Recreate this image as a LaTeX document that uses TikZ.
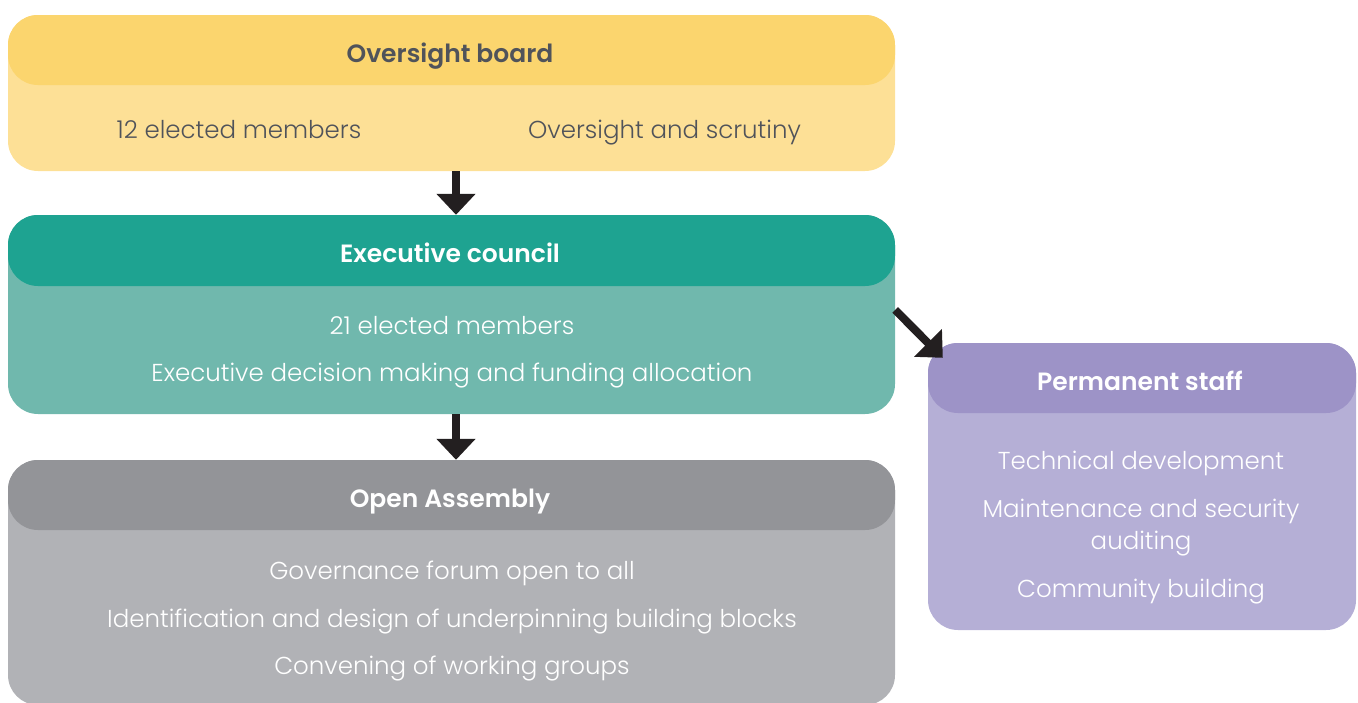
\documentclass[tikz,border=0pt]{standalone}
\usepackage{fontspec}
\setmainfont{Poppins}[UprightFont={* Light},BoldFont={* SemiBold}]
\usetikzlibrary{arrows.meta}
\definecolor{obHead}{HTML}{FBD56E}
\definecolor{obBody}{HTML}{FDE096}
\definecolor{obText}{HTML}{50535A}
\definecolor{ecHead}{HTML}{1EA391}
\definecolor{ecBody}{HTML}{70B8AD}
\definecolor{oaHead}{HTML}{939498}
\definecolor{oaBody}{HTML}{B1B2B6}
\definecolor{psHead}{HTML}{9D93C7}
\definecolor{psBody}{HTML}{B5AFD6}
\definecolor{arrowc}{HTML}{231F20}
\begin{document}
\begin{tikzpicture}[x=1pt,y=-1pt,
  panel/.style={rectangle, rounded corners=30pt, inner sep=0pt, draw=none},
  headtext/.style={font=\fontsize{25}{30}\selectfont\bfseries, anchor=base},
  bodytext/.style={font=\fontsize{24.5}{30}\selectfont, text=white, anchor=base},
  flow/.style={line width=8pt, draw=arrowc, -{Triangle[length=21pt,width=38pt]}}]
\useasboundingbox (0,0) rectangle (1358,702);

% Oversight board
\node[panel, fill=obBody, minimum width=887pt, minimum height=156pt] (ob) at (451.5,93) {};
\node[panel, fill=obHead, minimum width=887pt, minimum height=70pt, anchor=north] (obh) at (ob.north) {};
\node[headtext, text=obText] (obt) at (450,62) {Oversight board};
\node[bodytext, text=obText] (ob1) at (239,138) {12 elected members};
\node[bodytext, text=obText] (ob2) at (664.5,138) {Oversight and scrutiny};

% Executive council
\node[panel, fill=ecBody, minimum width=887pt, minimum height=199pt] (ec) at (451.5,314.5) {};
\node[panel, fill=ecHead, minimum width=887pt, minimum height=71pt, anchor=north] (ech) at (ec.north) {};
\node[headtext, text=white] (ect) at (450,262) {Executive council};
\node[bodytext] (ec1) at (452,334) {21 elected members};
\node[bodytext] (ec2) at (452,381) {Executive decision making and funding allocation};

% Open Assembly
\node[panel, fill=oaBody, minimum width=887pt, minimum height=245pt] (oa) at (451.5,582.5) {};
\node[panel, fill=oaHead, minimum width=887pt, minimum height=70pt, anchor=north] (oah) at (oa.north) {};
\node[headtext, text=white] (oat) at (450,507) {Open Assembly};
\node[bodytext] (oa1) at (452,579) {Governance forum open to all};
\node[bodytext] (oa2) at (452,627) {Identification and design of underpinning building blocks};
\node[bodytext] (oa3) at (452,674) {Convening of working groups};

% Permanent staff
\node[panel, fill=psBody, minimum width=428pt, minimum height=287pt] (ps) at (1142,486.5) {};
\node[panel, fill=psHead, minimum width=428pt, minimum height=70pt, anchor=north] (psh) at (ps.north) {};
\node[headtext, text=white] (pst) at (1140,390) {Permanent staff};
\node[bodytext] (ps1) at (1141,469) {Technical development};
\node[bodytext] (ps2a) at (1141,517) {Maintenance and security};
\node[bodytext] (ps2b) at (1141,549) {auditing};
\node[bodytext] (ps3) at (1141,597) {Community building};

% Reporting lines
\draw[flow] ([xshift=4.5pt]ob.south) -- ([xshift=4.5pt]ec.north);
\draw[flow] ([xshift=4.5pt]ec.south) -- ([xshift=4.5pt]oa.north);
\draw[flow] ([yshift=4.5pt]ec.east) -- ([shift={(15pt,-15pt)}]ps.north west);
\end{tikzpicture}
\end{document}
